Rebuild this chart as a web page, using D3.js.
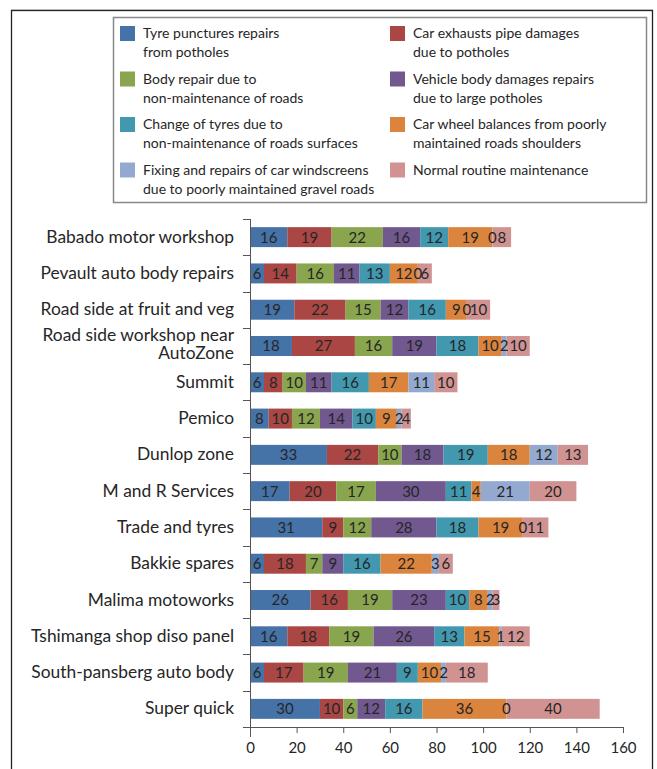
<!DOCTYPE html>
<html><head><meta charset="utf-8">
<script src="https://cdn.jsdelivr.net/npm/d3@7"></script>
<style>
body{margin:0;background:#fff;}
svg{display:block;font-family:Lato,"Open Sans",sans-serif;}
</style></head><body>
<svg id="chart" width="657" height="769"></svg>
<script>
const categories = ["Babado motor workshop","Pevault auto body repairs","Road side at fruit and veg","Road side workshop near AutoZone","Summit","Pemico","Dunlop zone","M and R Services","Trade and tyres","Bakkie spares","Malima motoworks","Tshimanga shop diso panel","South-pansberg auto body","Super quick"];
const seriesNames = ["Tyre punctures repairs from potholes","Car exhausts pipe damages due to potholes","Body repair due to non-maintenance of roads","Vehicle body damages repairs due to large potholes","Change  of tyres due to non-maintenance of roads surfaces","Car wheel balances from poorly maintained roads shoulders","Fixing and repairs of car windscreens due to poorly maintained gravel roads","Normal routine maintenance"];
const legendLines = [["Tyre punctures repairs","from potholes"],["Car exhausts pipe damages","due to potholes"],["Body repair due to","non-maintenance of roads"],["Vehicle body damages repairs","due to large potholes"],["Change  of tyres due to","non-maintenance of roads surfaces"],["Car wheel balances from poorly","maintained roads shoulders"],["Fixing and repairs of car windscreens","due to poorly maintained gravel roads"],["Normal routine maintenance"]];
const tyrePunctures   = [16,6,19,18,6,8,33,17,31,6,26,16,6,30];
const exhaustDamages  = [19,14,22,27,8,10,22,20,9,18,16,18,17,10];
const bodyRepair      = [22,16,15,16,10,12,10,17,12,7,19,19,19,6];
const vehicleBody     = [16,11,12,19,11,14,18,30,28,9,23,26,21,12];
const changeTyres     = [12,13,16,18,16,10,19,11,18,16,10,13,9,16];
const wheelBalances   = [19,12,9,10,17,9,18,4,19,22,8,15,10,36];
const windscreens     = [0,0,0,2,11,2,12,21,0,3,2,1,2,0];
const routine         = [8,6,10,10,10,4,13,20,11,6,3,12,18,40];
const xTicks = [0,20,40,60,80,100,120,140,160];
const colors = ["#4572A7","#AA4643","#89A54E","#71588F","#4198AF","#DB843D","#93A9CF","#D19392"];

const seriesValues = [tyrePunctures,exhaustDamages,bodyRepair,vehicleBody,changeTyres,wheelBalances,windscreens,routine];
const rows = categories.map((c,i)=>{const o={cat:c};seriesNames.forEach((s,j)=>o[s]=seriesValues[j][i]);return o;});
const stack = d3.stack().keys(seriesNames)(rows);

const svg = d3.select("#chart");
svg.append("rect").attr("x",11.5).attr("y",10.5).attr("width",641).attr("height",780)
  .attr("fill","none").attr("stroke","#222").attr("stroke-width",1.3);
svg.append("line").attr("x1",11).attr("x2",653).attr("y1",9.5).attr("y2",9.5).attr("stroke","#bbb");

const x = d3.scaleLinear().domain([0,160]).range([250,623]);
const y = d3.scaleBand().domain(categories).range([219,727]).paddingInner(0.45).paddingOuter(0.225);

const g = svg.append("g");
stack.forEach((layer,j)=>{
  g.append("g").attr("fill",colors[j]).selectAll("rect").data(layer).join("rect")
    .attr("x",d=>x(d[0])).attr("y",d=>y(d.data.cat))
    .attr("width",d=>x(d[1])-x(d[0])).attr("height",y.bandwidth());
});
stack.forEach((layer,j)=>{
  g.append("g").selectAll("text").data(layer).join("text")
    .attr("x",d=>(x(d[0])+x(d[1]))/2).attr("y",d=>y(d.data.cat)+y.bandwidth()/2)
    .attr("text-anchor","middle").attr("dy","0.36em")
    .attr("font-size",15).attr("fill","#262626")
    .text(d=>d[1]-d[0]);
});

const xAxis = svg.append("g").attr("transform","translate(0,727)")
  .call(d3.axisBottom(x).tickValues(xTicks).tickSize(6).tickPadding(9).tickSizeOuter(0));
xAxis.select(".domain").attr("stroke","#555").attr("d","M243,0.5H623");
xAxis.selectAll(".tick line").attr("stroke","#555");
xAxis.selectAll("text").attr("font-size",15).attr("fill","#262626").attr("font-family","Lato");

const yAxis = svg.append("g").attr("transform","translate(250,0)")
  .call(d3.axisLeft(y).tickSize(0).tickPadding(16));
yAxis.select(".domain").attr("stroke","#555").attr("d","M0.5,219V737");
yAxis.selectAll("text").attr("font-size",17.4).attr("fill","#262626").attr("font-family","Lato");
yAxis.selectAll(".tick text").each(function(d){
  if(d==="Road side workshop near AutoZone"){
    const t=d3.select(this); t.text(null);
    t.append("tspan").attr("x",-16).attr("dy","-0.3em").text("Road side workshop near");
    t.append("tspan").attr("x",-16).attr("dy","1.05em").text("AutoZone");
  }
});
const bounds = d3.range(categories.length+1).map(i=> i===0 ? 219 : y(categories[i-1]) + y.bandwidth() + y.step()*y.paddingInner()/2);
svg.append("g").selectAll("line").data(bounds).join("line")
  .attr("x1",243).attr("x2",250).attr("y1",d=>Math.round(d)+0.5).attr("y2",d=>Math.round(d)+0.5)
  .attr("stroke","#555");

const lg = svg.append("g");
lg.append("rect").attr("x",113.5).attr("y",17.5).attr("width",533).attr("height",185)
  .attr("fill","#fff").attr("stroke","#888").attr("stroke-width",1.5);
legendLines.forEach((lines,i)=>{
  const col=i%2,row=Math.floor(i/2);
  const lx = col===0?120:390, ly = 26+row*45.5;
  lg.append("rect").attr("x",lx).attr("y",ly).attr("width",15).attr("height",15).attr("fill",colors[i]);
  const t = lg.append("text").attr("font-size",14).attr("fill","#262626");
  lines.forEach((l,k)=>t.append("tspan").attr("x",lx+23).attr("y",ly+12+k*19).text(l));
});
</script>
</body></html>
